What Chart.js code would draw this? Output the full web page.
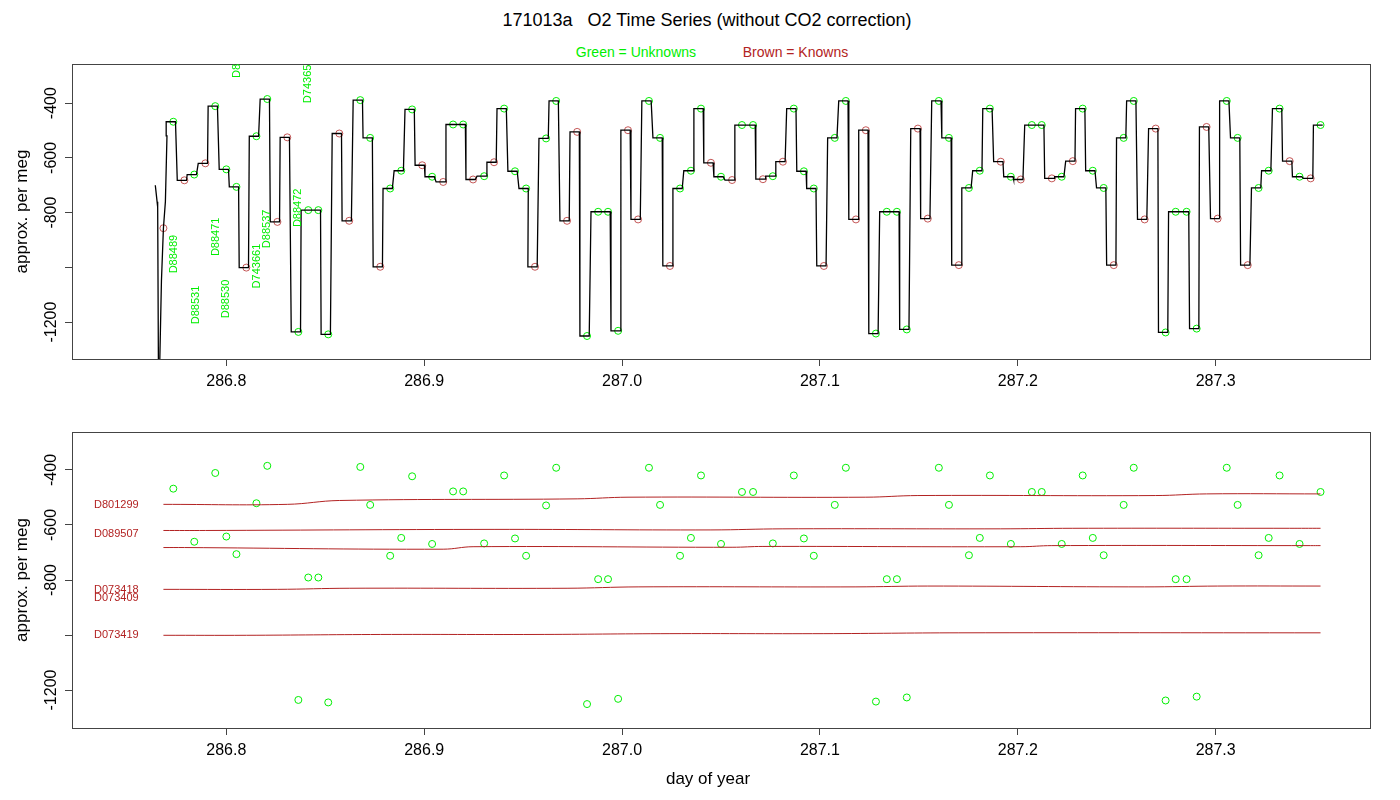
<!DOCTYPE html>
<html><head><meta charset="utf-8">
<script src="https://cdn.jsdelivr.net/npm/chart.js@4.4.1/dist/chart.umd.min.js"></script>
<style>
body{margin:0;background:#fff;width:1400px;height:800px;overflow:hidden;font-family:"Liberation Sans",Arial,sans-serif}
#t{position:absolute;top:10px;left:0;width:1414px;text-align:center;font-size:18px;color:#000;white-space:pre}
#s{position:absolute;top:44px;left:0;width:1424px;text-align:center;font-size:14px;white-space:pre}
canvas{position:absolute;left:0}
</style></head><body>
<div id="t">171013a   O2 Time Series (without CO2 correction)</div>
<div id="s"><span style="color:#00ee00">Green = Unknowns</span>            <span style="color:#b22222">Brown = Knowns</span></div>
<canvas id="c1" width="1400" height="400" style="top:0"></canvas>
<canvas id="c2" width="1400" height="400" style="top:400px"></canvas>
<script>
const T=[286.7682,286.7732,286.7788,286.7838,286.7894,286.7944,286.8000,286.8051,286.8101,286.8152,286.8207,286.8258,286.8308,286.8364,286.8414,286.8465,286.8515,286.8571,286.8621,286.8677,286.8727,286.8778,286.8828,286.8884,286.8939,286.8990,286.9040,286.9096,286.9146,286.9197,286.9247,286.9303,286.9353,286.9404,286.9459,286.9515,286.9560,286.9616,286.9667,286.9722,286.9773,286.9823,286.9879,286.9929,286.9980,287.0030,287.0081,287.0136,287.0192,287.0242,287.0293,287.0348,287.0399,287.0449,287.0500,287.0556,287.0606,287.0662,287.0712,287.0762,287.0813,287.0868,287.0919,287.0969,287.1020,287.1075,287.1131,287.1182,287.1232,287.1283,287.1338,287.1389,287.1439,287.1495,287.1545,287.1601,287.1652,287.1702,287.1753,287.1808,287.1859,287.1914,287.1965,287.2015,287.2071,287.2121,287.2172,287.2222,287.2278,287.2328,287.2379,287.2434,287.2485,287.2535,287.2586,287.2641,287.2697,287.2747,287.2798,287.2853,287.2904,287.2954,287.3010,287.3056,287.3111,287.3162,287.3217,287.3268,287.3323,287.3374,287.3424,287.3480,287.3530];
const V=[-857,-468,-682,-661,-620,-411,-642,-706,-1001,-521,-385,-834,-525,-1236,-791,-791,-1245,-511,-830,-389,-527,-998,-712,-647,-423,-627,-669,-688,-478,-478,-679,-667,-616,-420,-649,-712,-998,-529,-392,-830,-505,-1251,-797,-797,-1232,-499,-825,-392,-527,-995,-712,-647,-420,-618,-669,-681,-480,-480,-678,-667,-614,-420,-649,-712,-995,-527,-392,-825,-499,-1242,-797,-797,-1227,-493,-822,-392,-527,-992,-710,-647,-420,-614,-669,-679,-480,-480,-675,-669,-612,-420,-647,-710,-992,-527,-392,-825,-493,-1238,-797,-797,-1224,-487,-822,-392,-527,-992,-710,-647,-420,-612,-669,-675,-480];
const K=[1,0,1,0,1,0,0,0,1,0,0,1,1,0,0,0,0,1,1,0,0,1,0,0,0,1,0,1,0,0,1,0,1,0,0,0,1,0,0,1,1,0,0,0,0,1,1,0,0,1,0,0,0,1,0,1,0,0,1,0,1,0,0,0,1,0,0,1,1,0,0,0,0,1,1,0,0,1,0,0,0,1,0,1,0,0,1,0,1,0,0,0,1,0,0,1,1,0,0,0,0,1,1,0,0,1,0,0,0,1,0,1,0];
const LEAD_T=[286.7641,286.7650,286.7653,286.7657,286.7662,286.7672,286.7682,286.7692,286.7700];
const LEAD_V=[-700,-760,-780,-1400,-1400,-1050,-857,-760,-520];
const LABELS_TOP=[["D88489",286.7737,-1022],["D88531",286.7848,-1208],["D88471",286.7949,-959],["D88530",286.8000,-1186],["D8",286.8056,-308],["D743661",286.8157,-1077],["D88537",286.8207,-930],["D88472",286.8364,-853],["D743653",286.8414,-400]];
const REFS=[
 {name:"D801299",lab:-527,t:[286.7682,286.8308,286.8571,286.9773,287.0030,287.1232,287.1495,287.2697,287.2954,287.3530],v:[-525,-525,-511,-505,-499,-499,-493,-493,-487,-487]},
 {name:"D089507",lab:-632,t:[286.7682,286.7894,286.9353,287.0449,287.0813,287.1914,287.2278,287.3374,287.3530],v:[-620,-620,-616,-618,-614,-614,-612,-612,-612]},
 {name:"",lab:0,t:[286.7682,286.7788,286.9096,286.9247,287.0556,287.0712,287.2015,287.2172,287.3480,287.3530],v:[-682,-682,-688,-679,-681,-678,-679,-675,-675,-675]},
 {name:"D073418",lab:-835,t:[286.7682,286.8258,286.8621,286.9722,287.0081,287.1182,287.1545,287.2641,287.3010,287.3530],v:[-834,-834,-830,-830,-825,-825,-822,-825,-822,-822]},
 {name:"D073409",lab:-866,t:[],v:[]},
 {name:"D073419",lab:-1001,t:[286.7682,286.8101,286.8778,286.9560,287.0242,287.1020,287.1702,287.3530],v:[-1001,-1001,-998,-998,-995,-995,-992,-992]}
];
const XTICKS=[286.8,286.9,287.0,287.1,287.2,287.3];
const YTICKS=[-400,-600,-800,-1000,-1200];
const YLAB=[-400,-600,-800,-1200];
const GREEN='#00ee00', BROWN='rgba(178,34,34,0.75)', FONT='"Liberation Sans", Arial, sans-serif';

const line=[];
LEAD_T.forEach((t,i)=>line.push({x:t,y:LEAD_V[i]}));
T.forEach((t,i)=>{ if(i===0)return; line.push({x:t-0.0036,y:V[i]});line.push({x:t+0.0011,y:V[i]}); });
const unk=T.map((t,i)=>({x:t,y:V[i]})).filter((p,i)=>!K[i]);
const kn=T.map((t,i)=>({x:t,y:V[i]})).filter((p,i)=>K[i]);

function frame(extra){return {id:'frame',afterDraw(c){
  const a=c.chartArea,ctx=c.ctx; ctx.save();
  ctx.strokeStyle='#444';ctx.lineWidth=1;ctx.strokeRect(a.left+0.5,a.top+0.5,a.right-a.left,a.bottom-a.top);
  ctx.fillStyle='#000';ctx.font='16px '+FONT;ctx.textAlign='center';ctx.textBaseline='middle';
  const ys=c.scales.y;
  YLAB.forEach(v=>{const y=ys.getPixelForValue(v);ctx.save();ctx.translate(52,y);ctx.rotate(-Math.PI/2);ctx.fillText(String(v),0,0);ctx.restore();});
  ctx.font='17px '+FONT;ctx.save();ctx.translate(22,(a.top+a.bottom)/2);ctx.rotate(-Math.PI/2);ctx.fillText('approx. per meg',0,0);ctx.restore();
  if(extra)extra(c,ctx,a);
  ctx.restore();}};}

function scales(ymin,ymax,xh){return {
 x:{type:'linear',min:286.722,max:287.378,afterBuildTicks:s=>{s.ticks=XTICKS.map(v=>({value:v}));},
   afterFit:s=>{s.height=xh;},
   ticks:{color:'#000',font:{size:16,family:FONT},padding:6,callback:v=>v.toFixed(1),maxRotation:0},
   grid:{drawOnChartArea:false,drawTicks:true,tickLength:7,color:'#444'},border:{display:false}},
 y:{type:'linear',min:ymin,max:ymax,afterBuildTicks:s=>{s.ticks=YTICKS.map(v=>({value:v}));},
   afterFit:s=>{s.width=72;},
   ticks:{display:false},grid:{drawOnChartArea:false,drawTicks:true,tickLength:7,color:'#444'},border:{display:false}}
};}
const common={responsive:false,animation:false,plugins:{legend:{display:false},tooltip:{enabled:false}}};

new Chart(document.getElementById('c1'),{type:'scatter',
 data:{datasets:[
  {type:'line',data:line,borderColor:'#000',borderWidth:1.3,pointRadius:0,tension:0},
  {data:unk,pointRadius:3.5,pointBorderColor:GREEN,pointBackgroundColor:'rgba(0,0,0,0)',pointBorderWidth:1},
  {data:kn,pointRadius:3.5,pointBorderColor:BROWN,pointBackgroundColor:'rgba(0,0,0,0)',pointBorderWidth:1}
 ]},
 options:{...common,layout:{padding:{top:64,right:30,left:0,bottom:0}},scales:scales(-1335,-257,41)},
 plugins:[frame((c,ctx,a)=>{
   ctx.save();ctx.beginPath();ctx.rect(a.left,a.top,a.right-a.left,a.bottom-a.top);ctx.clip();
   ctx.fillStyle=GREEN;ctx.font='11px '+FONT;ctx.textAlign='left';ctx.textBaseline='middle';
   LABELS_TOP.forEach(([s,x,y])=>{const px=c.scales.x.getPixelForValue(x),py=c.scales.y.getPixelForValue(y);ctx.save();ctx.translate(px,py);ctx.rotate(-Math.PI/2);ctx.fillText(s,0,0);ctx.restore();});
   ctx.restore();})]
});

const ds2=REFS.filter(r=>r.t.length).map(r=>({type:'line',data:r.t.map((t,i)=>({x:t,y:r.v[i]})),borderColor:'#b22222',borderWidth:1,pointRadius:0,tension:0.4}));
ds2.push({data:unk,pointRadius:3.5,pointBorderColor:GREEN,pointBackgroundColor:'rgba(0,0,0,0)',pointBorderWidth:1});
new Chart(document.getElementById('c2'),{type:'scatter',
 data:{datasets:ds2},
 options:{...common,layout:{padding:{top:32,right:30,left:0,bottom:0}},scales:scales(-1338,-262,72)},
 plugins:[frame((c,ctx,a)=>{
   ctx.fillStyle='#b22222';ctx.font='11px '+FONT;ctx.textAlign='left';ctx.textBaseline='middle';
   REFS.forEach(r=>{if(!r.name)return;ctx.fillText(r.name,94,c.scales.y.getPixelForValue(r.lab));});
   ctx.fillStyle='#000';ctx.font='17px '+FONT;ctx.textAlign='center';ctx.fillText('day of year',708,379);
 })]
});
</script></body></html>
